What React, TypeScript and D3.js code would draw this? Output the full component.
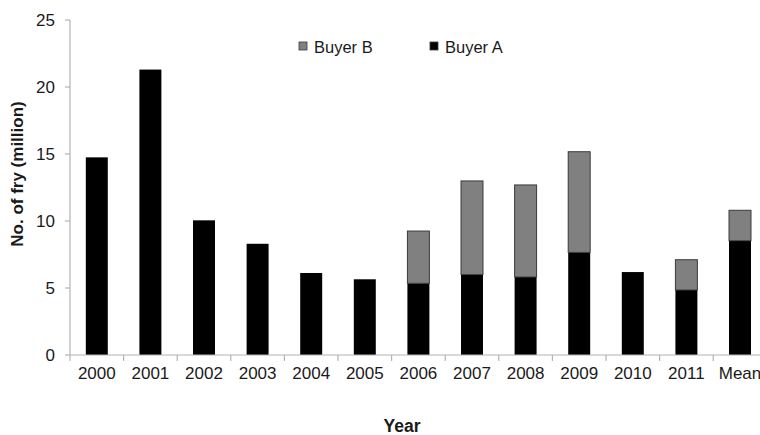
import React from "react";
import * as d3 from "d3";

const categories = ["2000", "2001", "2002", "2003", "2004", "2005", "2006", "2007", "2008", "2009", "2010", "2011", "Mean"];
const buyerA = [14.75, 21.3, 10.05, 8.3, 6.12, 5.65, 5.35, 6.0, 5.82, 7.66, 6.19, 4.85, 8.53];
const buyerB = [0, 0, 0, 0, 0, 0, 3.9, 6.99, 6.87, 7.51, 0, 2.26, 2.27];
const yTicks = [0, 5, 10, 15, 20, 25];
const seriesNames = ["Buyer B", "Buyer A"];
const seriesColors = ["#808080", "#000000"];

const W = 760;
const H = 435;
const left = 70;
const top = 20;
const bottom = 355;
const step = 53.6;

export default function App() {
  const x = d3
    .scaleBand<string>()
    .domain(categories)
    .range([left, left + step * categories.length])
    .paddingInner(0.59)
    .paddingOuter(0.295);
  const y = d3.scaleLinear().domain([0, 25]).range([bottom, top]);
  const band = d3.scaleBand<string>().domain(categories).range([left, left + step * categories.length]);

  const font = "Arial, 'Liberation Sans', Helvetica, sans-serif";
  const axisColor = "#b4b4b4";

  return (
    <div style={{ position: "fixed", left: 0, top: 0 }}>
      <svg width={W} height={H} style={{ display: "block", background: "#fff" }} fontFamily={font}>
        {/* y axis */}
        <line x1={left} x2={left} y1={y(25)} y2={y(0)} stroke={axisColor} strokeWidth={1.2} />
        {yTicks.map((t) => (
          <g key={t}>
            <line x1={left - 5} x2={left} y1={y(t)} y2={y(t)} stroke={axisColor} strokeWidth={1.2} />
            <text x={55} y={y(t)} dy="0.35em" textAnchor="end" fontSize={17} fill="#1a1a1a">
              {t}
            </text>
          </g>
        ))}
        {/* bars */}
        {categories.map((c, i) => (
          <g key={c}>
            <rect
              x={x(c)}
              width={x.bandwidth()}
              y={y(buyerA[i])}
              height={y(0) - y(buyerA[i])}
              fill={seriesColors[1]}
            />
            {buyerB[i] > 0 && (
              <rect
                x={x(c)}
                width={x.bandwidth()}
                y={y(buyerA[i] + buyerB[i])}
                height={y(buyerA[i]) - y(buyerA[i] + buyerB[i])}
                fill={seriesColors[0]}
                stroke="#3a3a3a"
                strokeWidth={1}
              />
            )}
          </g>
        ))}
        {/* x axis */}
        <line x1={left} x2={left + step * categories.length} y1={bottom} y2={bottom} stroke={axisColor} strokeWidth={1.2} />
        {categories.map((c) => (
          <line
            key={"t" + c}
            x1={band(c)}
            x2={band(c)}
            y1={bottom}
            y2={bottom + 6}
            stroke={axisColor}
            strokeWidth={1.2}
          />
        ))}
        {categories.map((c) => (
          <text
            key={"l" + c}
            x={(band(c) as number) + band.bandwidth() / 2}
            y={379}
            textAnchor="middle"
            fontSize={17}
            fill="#1a1a1a"
          >
            {c}
          </text>
        ))}
        {/* axis titles */}
        <text x={402} y={432} textAnchor="middle" fontSize={17.5} fontWeight="bold" fill="#1a1a1a">
          Year
        </text>
        <text
          transform={`translate(23, ${174}) rotate(-90)`}
          textAnchor="middle"
          fontSize={17}
          fontWeight="bold"
          fill="#1a1a1a"
        >
          No. of fry (million)
        </text>
        {/* legend */}
        {seriesNames.map((n, i) => {
          const lx = [299, 430][i];
          return (
            <g key={n}>
              <rect x={lx} y={42} width={8} height={8} fill={seriesColors[i]} stroke="#3a3a3a" strokeWidth={0.8} />
              <text x={lx + 15} y={53} fontSize={16.5} fill="#1a1a1a">
                {n}
              </text>
            </g>
          );
        })}
      </svg>
    </div>
  );
}
